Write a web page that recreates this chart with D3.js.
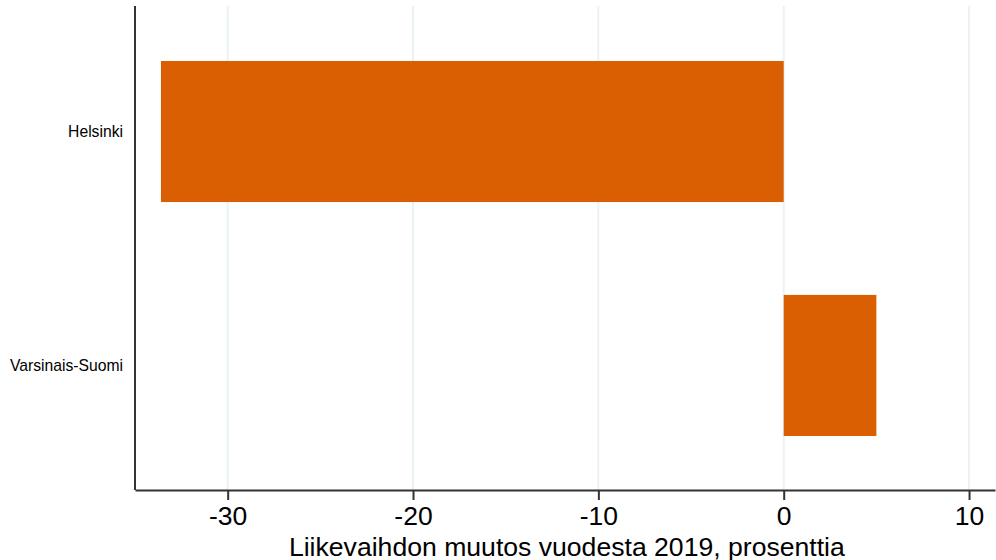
<html>
<head>
  <meta charset="utf-8">
  <script src="https://d3js.org/d3.v7.min.js"></script>
  <style>
    body { margin: 0; background: #fff; font-family: Arial, "Liberation Sans", sans-serif; }
  </style>
</head>
<body>
  <div id="graphArea"></div>
  <script>
    // values
    var regions = ["Helsinki", "Varsinais-Suomi"];
    var changes = [-33.6, 5.0];
    var xTicks = [-30, -20, -10, 0, 10];
    var xTitle = "Liikevaihdon muutos vuodesta 2019, prosenttia";

    var data = regions.map(function(r, i) {
      return { region: r, value: changes[i] };
    });

    var width = 996, height = 560;
    var plot = { left: 135, right: 995, top: 6, bottom: 490 };

    var svg = d3.select("#graphArea").append("svg")
      .attr("width", width)
      .attr("height", height);

    var x = d3.scaleLinear()
      .domain([-35, 11.4])
      .range([plot.left, plot.right]);

    var y = d3.scaleBand()
      .domain(regions)
      .range([14.2, 482.8])
      .paddingInner(0.397)
      .paddingOuter(0.2);

    // grid lines
    svg.append("g")
      .selectAll("line")
      .data(xTicks)
      .enter()
      .append("line")
      .attr("x1", function(d) { return x(d); })
      .attr("x2", function(d) { return x(d); })
      .attr("y1", plot.top)
      .attr("y2", plot.bottom)
      .attr("stroke", "#eaf2f3")
      .attr("stroke-width", 2);

    // bars
    svg.append("g")
      .selectAll("rect")
      .data(data)
      .enter()
      .append("rect")
      .attr("x", function(d) { return x(Math.min(0, d.value)); })
      .attr("width", function(d) { return Math.abs(x(d.value) - x(0)); })
      .attr("y", function(d) { return y(d.region); })
      .attr("height", y.bandwidth())
      .attr("fill", "#d95f02");

    // x axis
    var xAxis = d3.axisBottom(x)
      .tickValues(xTicks)
      .tickFormat(function(d) { return String(d); })
      .tickSize(10)
      .tickPadding(6)
      .tickSizeOuter(0);

    var gx = svg.append("g")
      .attr("transform", "translate(0," + plot.bottom + ")")
      .call(xAxis);
    gx.select(".domain").attr("stroke", "#333").attr("stroke-width", 2);
    gx.selectAll(".tick line").attr("stroke", "#333").attr("stroke-width", 2);
    gx.selectAll(".tick text")
      .attr("fill", "#000")
      .style("font-size", "26.5px")
      .style("font-family", "Arial, 'Liberation Sans', sans-serif");

    // y axis
    var yAxis = d3.axisLeft(y)
      .tickSize(0)
      .tickPadding(12)
      .tickSizeOuter(0);

    var gy = svg.append("g")
      .attr("transform", "translate(" + plot.left + ",0)")
      .call(yAxis);
    gy.select(".domain")
      .attr("d", "M0," + plot.top + "V" + plot.bottom)
      .attr("stroke", "#333")
      .attr("stroke-width", 2);
    gy.selectAll(".tick text")
      .attr("fill", "#000")
      .style("font-size", "15.7px")
      .style("font-family", "Arial, 'Liberation Sans', sans-serif");

    // x title
    svg.append("text")
      .attr("x", x(-11.7))
      .attr("y", 556)
      .attr("text-anchor", "middle")
      .style("font-size", "26.6px")
      .style("font-family", "Arial, 'Liberation Sans', sans-serif")
      .attr("fill", "#000")
      .text(xTitle);
  </script>
</body>
</html>
